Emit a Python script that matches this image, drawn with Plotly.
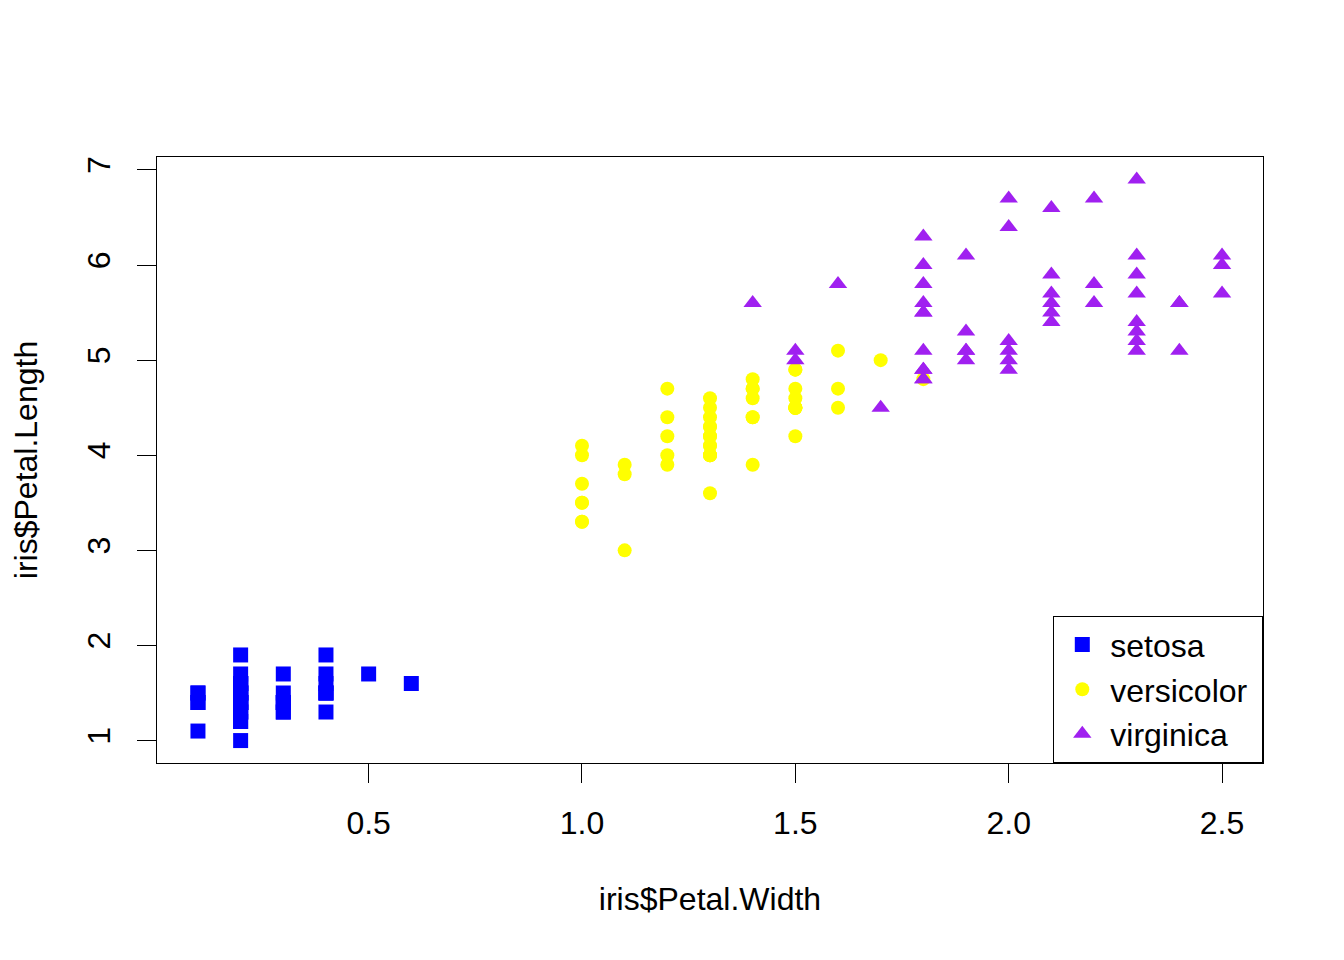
import plotly.graph_objects as go

# iris petal measurements, by species
setosa_width = [0.2, 0.2, 0.2, 0.2, 0.2, 0.4, 0.3, 0.2, 0.2, 0.1,
                0.2, 0.2, 0.1, 0.1, 0.2, 0.4, 0.4, 0.3, 0.3, 0.3,
                0.2, 0.4, 0.2, 0.5, 0.2, 0.2, 0.4, 0.2, 0.2, 0.2,
                0.2, 0.4, 0.1, 0.2, 0.2, 0.2, 0.2, 0.1, 0.2, 0.2,
                0.3, 0.3, 0.2, 0.6, 0.4, 0.3, 0.2, 0.2, 0.2, 0.2]
setosa_length = [1.4, 1.4, 1.3, 1.5, 1.4, 1.7, 1.4, 1.5, 1.4, 1.5,
                 1.5, 1.6, 1.4, 1.1, 1.2, 1.5, 1.3, 1.4, 1.7, 1.5,
                 1.7, 1.5, 1.0, 1.7, 1.9, 1.6, 1.6, 1.5, 1.4, 1.6,
                 1.6, 1.5, 1.5, 1.4, 1.5, 1.2, 1.3, 1.4, 1.3, 1.5,
                 1.3, 1.3, 1.3, 1.6, 1.9, 1.4, 1.6, 1.4, 1.5, 1.4]

versicolor_width = [1.4, 1.5, 1.5, 1.3, 1.5, 1.3, 1.6, 1.0, 1.3, 1.4,
                    1.0, 1.5, 1.0, 1.4, 1.3, 1.4, 1.5, 1.0, 1.5, 1.1,
                    1.8, 1.3, 1.5, 1.2, 1.3, 1.4, 1.4, 1.7, 1.5, 1.0,
                    1.1, 1.0, 1.2, 1.6, 1.5, 1.6, 1.5, 1.3, 1.3, 1.3,
                    1.2, 1.4, 1.2, 1.0, 1.3, 1.2, 1.3, 1.3, 1.1, 1.3]
versicolor_length = [4.7, 4.5, 4.9, 4.0, 4.6, 4.5, 4.7, 3.3, 4.6, 3.9,
                     3.5, 4.2, 4.0, 4.7, 3.6, 4.4, 4.5, 4.1, 4.5, 3.9,
                     4.8, 4.0, 4.9, 4.7, 4.3, 4.4, 4.8, 5.0, 4.5, 3.5,
                     3.8, 3.7, 3.9, 5.1, 4.5, 4.5, 4.7, 4.4, 4.1, 4.0,
                     4.4, 4.6, 4.0, 3.3, 4.2, 4.2, 4.2, 4.3, 3.0, 4.1]

virginica_width = [2.5, 1.9, 2.1, 1.8, 2.2, 2.1, 1.7, 1.8, 1.8, 2.5,
                   2.0, 1.9, 2.1, 2.0, 2.4, 2.3, 1.8, 2.2, 2.3, 1.5,
                   2.3, 2.0, 2.0, 1.8, 2.1, 1.8, 1.8, 1.8, 2.1, 1.6,
                   1.9, 2.0, 2.2, 1.5, 1.4, 2.3, 2.4, 1.8, 1.8, 2.1,
                   2.4, 2.3, 1.9, 2.3, 2.5, 2.3, 1.9, 2.0, 2.3, 1.8]
virginica_length = [6.0, 5.1, 5.9, 5.6, 5.8, 6.6, 4.5, 6.3, 5.8, 6.1,
                    5.1, 5.3, 5.5, 5.0, 5.1, 5.3, 5.5, 6.7, 6.9, 5.0,
                    5.7, 4.9, 6.7, 4.9, 5.7, 6.0, 4.8, 4.9, 5.6, 5.8,
                    6.1, 6.4, 5.6, 5.1, 5.6, 6.1, 5.6, 5.5, 4.8, 5.4,
                    5.6, 5.1, 5.1, 5.9, 5.7, 5.2, 5.0, 5.2, 5.4, 5.1]

x_ticks = [0.5, 1.0, 1.5, 2.0, 2.5]
x_tick_labels = ["0.5", "1.0", "1.5", "2.0", "2.5"]
y_ticks = [1, 2, 3, 4, 5, 6, 7]

FONT = "Liberation Sans, Arial, sans-serif"
FS = 32

fig = go.Figure()
fig.add_trace(go.Scatter(x=setosa_width, y=setosa_length, mode="markers",
                         name="setosa",
                         marker=dict(symbol="square", size=15, color="#0000FF")))
fig.add_trace(go.Scatter(x=versicolor_width, y=versicolor_length, mode="markers",
                         name="versicolor\u00a0",
                         marker=dict(symbol="circle", size=14, color="#FFFF00")))
fig.add_trace(go.Scatter(x=virginica_width, y=virginica_length, mode="markers",
                         name="virginica",
                         marker=dict(symbol="triangle-up", size=16, color="#A020F0")))

axis_common = dict(
    showgrid=False, zeroline=False,
    showline=True, linecolor="black", linewidth=1.3, mirror=True,
    ticks="outside", ticklen=19, tickwidth=1.3, tickcolor="black",
    tickfont=dict(family=FONT, size=FS, color="black"),
)

fig.update_xaxes(range=[0.004, 2.596], tickvals=x_ticks, ticktext=x_tick_labels,
                 ticklabelstandoff=12,
                 title=dict(text="iris$Petal.Width", standoff=48,
                            font=dict(family=FONT, size=FS, color="black")),
                 **axis_common)
fig.update_yaxes(range=[0.764, 7.136], tickvals=y_ticks, tickangle=-90,
                 ticklabelstandoff=14,
                 title=dict(text="iris$Petal.Length", standoff=40,
                            font=dict(family=FONT, size=FS, color="black")),
                 **axis_common)

# page body has an 8px margin, so shrink the figure to keep the plot box in place
fig.update_layout(
    width=1328, height=944,
    margin=dict(l=149, r=73, t=149, b=189),
    plot_bgcolor="white", paper_bgcolor="white",
    hovermode=False,
    legend=dict(x=1, xanchor="right", y=0, yanchor="bottom",
                bgcolor="white", bordercolor="black", borderwidth=1.3,
                font=dict(family=FONT, size=FS, color="black"),
                itemwidth=46, tracegroupgap=0),
)

fig.write_html("out.html")
